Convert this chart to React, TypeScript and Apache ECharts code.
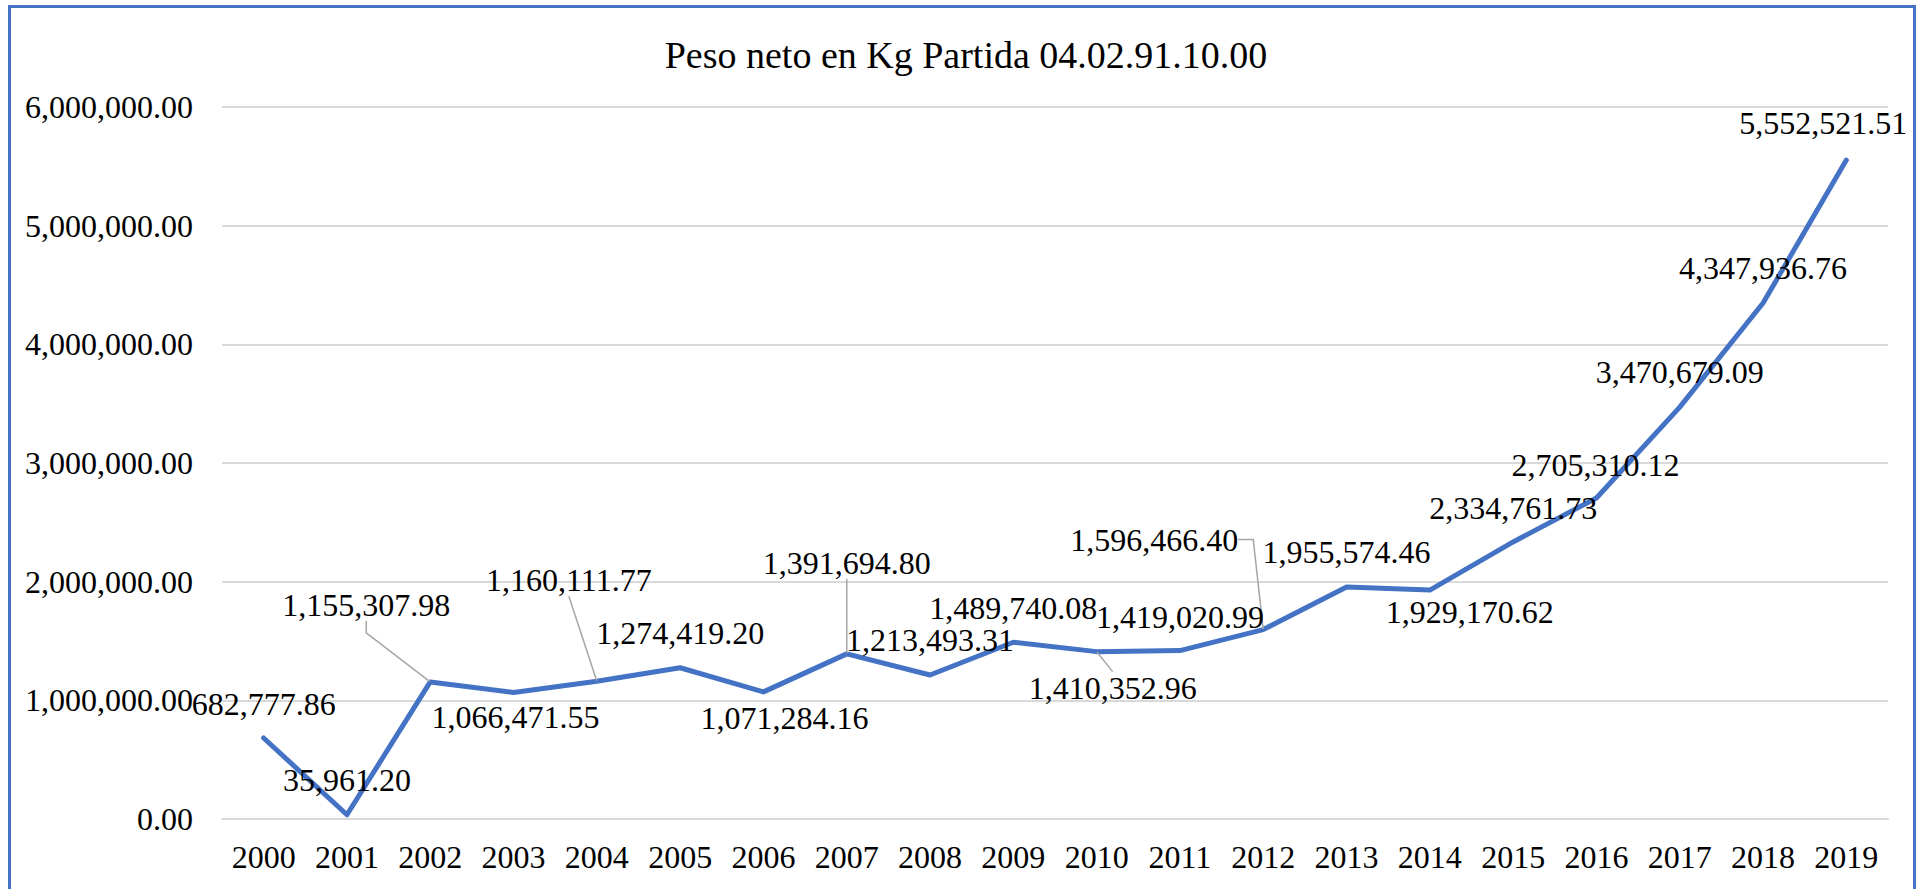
import React, { useEffect, useRef } from "react";
import * as echarts from "echarts";

const years = [
  "2000", "2001", "2002", "2003", "2004", "2005", "2006", "2007", "2008", "2009",
  "2010", "2011", "2012", "2013", "2014", "2015", "2016", "2017", "2018", "2019",
];

const pesoNeto = [
  682777.86, 35961.2, 1155307.98, 1066471.55, 1160111.77, 1274419.2, 1071284.16,
  1391694.8, 1213493.31, 1489740.08, 1410352.96, 1419020.99, 1596466.4, 1955574.46,
  1929170.62, 2334761.73, 2705310.12, 3470679.09, 4347936.76, 5552521.51,
];

const yAxisMin = 0;
const yAxisMax = 6000000;
const yAxisStep = 1000000;

const chartTitle = "Peso neto en Kg Partida 04.02.91.10.00";

// label placement (pixel offsets of each data label from its point)
const labelShift: number[][] = [
  [0, -34], [0, -35], [-64, -77], [2, 25], [-28, -101], [0, -35], [21, 26],
  [0, -91], [0, -35], [0, -34], [16, 36], [0, -34], [-109, -90], [0, -35],
  [40, 22], [0, -34], [-1, -33], [0, -35], [0, -35], [-23, -37],
];
const leaderLineIdx = [2, 4, 7, 10, 12];
const leaderStub: Record<number, number> = { 2: 12, 12: 15 };

const fmt = (v: number) => {
  const [i, d] = Number(v).toFixed(2).split(".");
  return i.replace(/\B(?=(\d{3})+(?!\d))/g, ",") + "." + d;
};

const FONT = '"Liberation Serif", "Times New Roman", serif';

export default function App() {
  const ref = useRef<HTMLDivElement>(null);
  useEffect(() => {
    if (!ref.current) return;
    const chart = echarts.init(ref.current, null, { renderer: "svg" });
    chart.setOption({
      animation: false,
      backgroundColor: "#ffffff",
      title: {
        text: chartTitle,
        left: 961,
        textAlign: "center",
        top: 31,
        textStyle: {
          fontFamily: FONT,
          fontSize: 38,
          lineHeight: 38,
          fontWeight: "normal",
          color: "#000000",
        },
      },
      graphic: [
        {
          type: "rect",
          z: -1,
          silent: true,
          shape: { x: 9.5, y: 6.5, width: 1905, height: 1000 },
          style: { fill: "none", stroke: "#4472C4", lineWidth: 3 },
        },
      ],
      grid: { left: 222, right: 29, top: 107, bottom: 70 },
      xAxis: {
        type: "category",
        data: years,
        boundaryGap: true,
        axisLine: { show: true, lineStyle: { color: "#D9D9D9", width: 2 } },
        axisTick: { show: false },
        axisLabel: {
          margin: 22,
          fontFamily: FONT,
          fontSize: 32,
          color: "#000000",
          interval: 0,
        },
      },
      yAxis: {
        type: "value",
        min: yAxisMin,
        max: yAxisMax,
        interval: yAxisStep,
        axisLine: { show: false },
        axisTick: { show: false },
        splitLine: { lineStyle: { color: "#D9D9D9", width: 2 } },
        axisLabel: {
          margin: 29,
          fontFamily: FONT,
          fontSize: 32,
          color: "#000000",
          formatter: (v: number) => fmt(v),
        },
      },
      series: [
        {
          type: "line",
          data: pesoNeto.map((v, i) => ({
            value: v,
            labelLine: {
              show: leaderLineIdx.includes(i),
              length2: leaderStub[i] || 0,
              lineStyle: { color: "#A6A6A6", width: 1.5 },
            },
          })),
          symbol: "circle",
          symbolSize: 1,
          showSymbol: true,
          itemStyle: { color: "#4472C4" },
          lineStyle: { color: "#4472C4", width: 5, cap: "round", join: "round" },
          label: {
            show: true,
            position: "inside",
            fontFamily: FONT,
            fontSize: 32,
            color: "#000000",
            formatter: (p: any) => fmt(p.value),
          },
          labelLayout: (p: any) => ({
            dx: labelShift[p.dataIndex][0],
            dy: labelShift[p.dataIndex][1],
          }),
          labelLine: { show: false, lineStyle: { color: "#A6A6A6", width: 1.5 } },
        },
      ],
    });
    return () => chart.dispose();
  }, []);
  return (
    <div
      ref={ref}
      style={{ position: "fixed", left: 0, top: 0, width: 1917, height: 889 }}
    />
  );
}
